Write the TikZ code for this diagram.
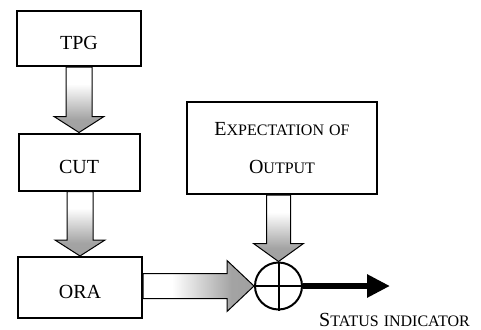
\documentclass[tikz,border=0pt]{standalone}
\usepackage{fontspec}
\setmainfont{Liberation Serif}
\usetikzlibrary{arrows.meta,calc}
\pgfdeclareverticalshading{stip}{100bp}{color(0bp)=(black!40); color(35bp)=(black!36); color(62bp)=(white); color(100bp)=(white)}
\newcommand\sct[2]{#1{\fontsize{16}{16}\selectfont #2}}
\newcommand\scs[1]{{\fontsize{16}{16}\selectfont #1}}
\newcommand\varrow[5]{%
  \path[blk] let \p1=(#1.south), \p2=(#2.north) in
   ({\x2-#3},\y1) -- ({\x2+#3},\y1) -- ({\x2+#3},{\y2+#5}) -- ({\x2+#4},{\y2+#5})
   -- (\x2,\y2) -- ({\x2-#4},{\y2+#5}) -- ({\x2-#3},{\y2+#5}) -- cycle;}
\begin{document}
\begin{tikzpicture}[x=1pt,y=-1pt,
  box/.style={draw, line width=2pt, font=\fontsize{20}{24}\selectfont, inner sep=0pt},
  lbl/.style={text height=22pt, text depth=0pt},
  blk/.style={draw, line width=1pt, shading=stip, line join=miter}]
\useasboundingbox (0,0) rectangle (481,329);
\node[box, lbl, minimum width=124pt, minimum height=55pt] (tpg) at (79,38.5) {TPG};
\node[box, lbl, minimum width=121pt, minimum height=57pt] (cut) at (79,162) {CUT};
\node[box, lbl, minimum width=124pt, minimum height=61pt] (ora) at (80,287.5) {ORA};
\node[box, minimum width=190pt, minimum height=92pt, align=center,
      font=\fontsize{20}{38}\selectfont] (exp) at (282,148)
      {\sct{E}{XPECTATION} \scs{OF}\\\sct{O}{UTPUT}};
\node[draw, circle, line width=2pt, minimum size=47pt, inner sep=0pt] (xor) at (278.5,286) {};
\draw[line width=2pt] (xor.north) -- (xor.south) (xor.west) -- (xor.east);
\varrow{tpg}{cut}{13pt}{25pt}{16pt}
\varrow{cut}{ora}{13pt}{25pt}{16pt}
\varrow{exp}{xor}{12pt}{25pt}{18pt}
\path[blk, shading angle=90] let \p1=(ora.east), \p2=(xor.west) in
  (\x1,{\y2+12.5pt}) -- ({\x2-27pt},{\y2+12.5pt}) -- ({\x2-27pt},{\y2+25.5pt})
  -- (\x2,\y2) -- ({\x2-27pt},{\y2-25.5pt}) -- ({\x2-27pt},{\y2-12.5pt})
  -- (\x1,{\y2-12.5pt}) -- cycle;
\coordinate (outtip) at (390,286);
\draw[line width=6pt, -{Triangle[length=23pt,width=22pt]}] (xor.east) -- (outtip);
\node[font=\fontsize{20}{24}\selectfont, anchor=base west, inner sep=0pt] (status) at (319,326)
  {\sct{S}{TATUS} \scs{INDICATOR}};
\end{tikzpicture}
\end{document}
